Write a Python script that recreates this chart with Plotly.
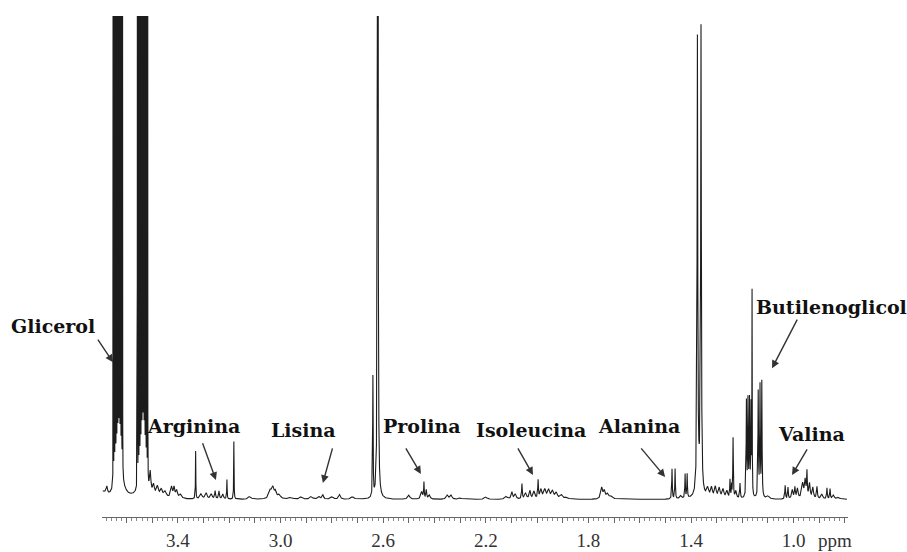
import numpy as np
import plotly.graph_objects as go

# 1H NMR spectrum described as a list of Lorentzian lines:
# chemical shift (ppm), height (a.u.), half width at half maximum (ppm)
peak_ppm = [
    # glicerol, first multiplet (dense lines over a broad base)
    3.690, 3.677,
    3.652, 3.648, 3.644, 3.640, 3.636, 3.632, 3.628, 3.624, 3.620, 3.616,
    3.630,
    # glicerol, second multiplet
    3.558, 3.554, 3.550, 3.546, 3.542, 3.538, 3.534, 3.530, 3.526, 3.522, 3.518,
    3.536,
    # 3.51 - 3.39
    3.508, 3.495, 3.480, 3.465, 3.450, 3.425, 3.415, 3.405, 3.390,
    # arginina region
    3.331, 3.310, 3.290, 3.270, 3.255, 3.240, 3.225, 3.209, 3.182, 3.120,
    # 3.04 - 2.70 (lisina)
    3.040, 3.030, 3.020, 3.005, 2.960, 2.920, 2.880, 2.850, 2.835, 2.800, 2.770, 2.720,
    # 2.6 singlet and shoulder
    2.621, 2.640,
    # prolina region
    2.500, 2.450, 2.441, 2.432, 2.420, 2.350, 2.335, 2.300, 2.200,
    # isoleucina region
    2.120, 2.098, 2.085, 2.059, 2.045, 2.028, 2.012, 1.996, 1.985, 1.970,
    1.955, 1.940, 1.925, 1.905, 1.885,
    # 1.75 multiplet
    1.748, 1.738, 1.725, 1.710,
    # alanina doublets
    1.474, 1.462, 1.440, 1.423, 1.415,
    # large doublet at 1.37
    1.375, 1.361, 1.368,
    # 1.34 - 1.20
    1.335, 1.320, 1.305, 1.290, 1.275, 1.260, 1.248, 1.242, 1.236, 1.225, 1.209,
    # butilenoglicol
    1.184, 1.178, 1.172, 1.166, 1.162, 1.138, 1.131, 1.124, 1.100,
    # valina region
    1.033, 1.022, 1.005, 0.995, 0.985, 0.965, 0.955, 0.948, 0.938, 0.925,
    0.909, 0.890, 0.870, 0.858, 0.845, 0.825,
]
peak_height = [
    1.2, 1.5,
    200, 240, 260, 260, 260, 260, 260, 250, 240, 200,
    10,
    200, 230, 250, 260, 260, 260, 260, 260, 250, 230, 200,
    11,
    4.0, 2.0, 2.0, 1.5, 1.2, 2.2, 2.0, 1.5, 0.8,
    9.5, 1.0, 1.2, 1.0, 1.6, 1.6, 1.0, 3.9, 11.5, 0.6,
    1.6, 2.0, 1.3, 0.8, 0.4, 0.5, 0.6, 0.5, 0.9, 0.5, 0.9, 0.5,
    300, 24,
    0.8, 1.5, 3.2, 1.8, 0.8, 0.8, 0.8, 0.3, 0.5,
    0.6, 1.4, 1.0, 3.0, 1.2, 1.6, 1.5, 3.6, 1.8, 1.8,
    1.7, 1.5, 1.2, 0.8, 0.4,
    2.2, 1.5, 1.0, 0.5,
    6.0, 6.0, 0.6, 4.8, 4.8,
    90, 92, 3.0,
    1.8, 2.0, 2.2, 2.0, 1.8, 1.5, 3.6, 2.5, 12.0, 1.5, 3.0,
    19, 19, 19, 18, 40, 21, 22, 23, 0.6,
    2.7, 2.3, 1.8, 2.2, 2.0, 3.0, 3.5, 5.0, 3.0, 2.2,
    2.4, 1.0, 2.2, 2.0, 0.8, 0.4,
]
peak_width = [
    0.010, 0.003,
    0.0002, 0.0002, 0.0002, 0.0002, 0.0002, 0.0002, 0.0002, 0.0002, 0.0002, 0.0002,
    0.012,
    0.0002, 0.0002, 0.0002, 0.0002, 0.0002, 0.0002, 0.0002, 0.0002, 0.0002, 0.0002, 0.0002,
    0.010,
    0.003, 0.004, 0.005, 0.005, 0.006, 0.004, 0.003, 0.004, 0.005,
    0.0008, 0.005, 0.004, 0.004, 0.002, 0.002, 0.003, 0.001, 0.0008, 0.006,
    0.006, 0.005, 0.005, 0.006, 0.008, 0.006, 0.006, 0.005, 0.003, 0.006, 0.004, 0.006,
    0.0010, 0.0010,
    0.005, 0.004, 0.0012, 0.002, 0.004, 0.005, 0.004, 0.006, 0.006,
    0.006, 0.003, 0.004, 0.0015, 0.004, 0.003, 0.004, 0.0015, 0.004, 0.005,
    0.005, 0.005, 0.005, 0.006, 0.006,
    0.004, 0.004, 0.006, 0.006,
    0.0012, 0.0012, 0.004, 0.0012, 0.0012,
    0.0015, 0.0015, 0.008,
    0.005, 0.004, 0.004, 0.004, 0.004, 0.004, 0.0012, 0.0012, 0.0012, 0.003, 0.0015,
    0.0012, 0.0012, 0.0012, 0.0012, 0.0006, 0.0012, 0.0012, 0.0012, 0.006,
    0.0015, 0.0015, 0.003, 0.002, 0.003, 0.004, 0.003, 0.0015, 0.003, 0.003,
    0.002, 0.004, 0.0015, 0.0015, 0.004, 0.006,
]
baseline_level = 0.3

# assigned metabolites: label, text position (ppm, a.u.), arrow tail and head (ppm, a.u.)
labels = ["Glicerol", "Arginina", "Lisina", "Prolina", "Isoleucina",
          "Alanina", "Butilenoglicol", "Valina"]
label_ppm = [3.887, 3.338, 2.909, 2.449, 2.024, 1.603, 0.854, 0.932]
label_int = [35.0, 15.0, 14.2, 15.0, 14.2, 15.0, 38.8, 13.4]
arrow_tail_ppm = [3.716, 3.306, 2.796, 2.515, 2.078, 1.599, 0.983, 0.944]
arrow_tail_int = [32.5, 11.8, 10.8, 10.8, 10.8, 10.8, 36.5, 10.6]
arrow_head_ppm = [3.653, 3.252, 2.835, 2.453, 2.016, 1.501, 1.084, 1.006]
arrow_head_int = [27.7, 4.2, 3.6, 5.4, 5.2, 4.8, 26.5, 5.2]

tick_values = [3.7, 3.6, 3.5, 3.4, 3.3, 3.2, 3.1, 3.0, 2.9, 2.8, 2.7, 2.6, 2.5,
               2.4, 2.3, 2.2, 2.1, 2.0, 1.9, 1.8, 1.7, 1.6, 1.5, 1.4, 1.3,
               1.2, 1.1, 1.0, 0.9, 0.8]
tick_labels = ["", "", "", "3.4", "", "", "", "3.0", "", "", "", "2.6", "",
               "", "", "2.2", "", "", "", "1.8", "", "", "", "1.4", "",
               "", "", "1.0", "", ""]
unit_label = "ppm"

X_RANGE = [3.696, 0.788]
Y_RANGE = [-3.2, 96.8]

# sum of Lorentzian lines on a fine chemical-shift grid
shift = np.arange(0.792, 3.692, 0.0001)
intensity = np.full_like(shift, baseline_level)
for p, h, w in zip(peak_ppm, peak_height, peak_width):
    intensity += h * w * w / ((shift - p) ** 2 + w * w)

fig = go.Figure()
fig.add_trace(go.Scatter(
    x=shift, y=intensity, mode="lines",
    line=dict(color="#1c1c1c", width=1.1),
    hoverinfo="skip", showlegend=False,
))


def to_paper_x(v):
    return (X_RANGE[0] - v) / (X_RANGE[0] - X_RANGE[1])


def to_paper_y(v):
    return (v - Y_RANGE[0]) / (Y_RANGE[1] - Y_RANGE[0])


label_font = dict(family="DejaVu Serif", size=19, color="#111111")
for name, lx, ly in zip(labels, label_ppm, label_int):
    # labels may sit left of the axis range, so place them in paper units
    fig.add_annotation(x=to_paper_x(lx), y=to_paper_y(ly), xref="paper", yref="paper",
                       text="<b>%s</b>" % name, showarrow=False, font=label_font,
                       xanchor="center", yanchor="middle")
for tx, ty, hx, hy in zip(arrow_tail_ppm, arrow_tail_int, arrow_head_ppm, arrow_head_int):
    fig.add_annotation(x=hx, y=hy, xref="x", yref="y", ax=tx, ay=ty,
                       axref="x", ayref="y", text="", showarrow=True,
                       arrowhead=2, arrowsize=1.1, arrowwidth=1.4,
                       arrowcolor="#333333", standoff=0, startstandoff=0)

fig.add_annotation(x=0.839, y=-0.047, xref="x", yref="paper", text=unit_label,
                   showarrow=False, xanchor="center", yanchor="middle",
                   font=dict(family="Liberation Serif", size=19, color="#333333"))

fig.update_layout(
    width=907, height=552,
    margin=dict(l=102, r=59, t=16, b=35),
    paper_bgcolor="white", plot_bgcolor="white",
    xaxis=dict(
        range=X_RANGE, automargin=False,
        tickmode="array", tickvals=tick_values, ticktext=tick_labels,
        ticks="outside", ticklen=5, tickwidth=1, tickcolor="#666666",
        showline=True, linecolor="#666666", linewidth=1,
        showgrid=False, zeroline=False,
        tickfont=dict(family="Liberation Serif", size=19, color="#333333"),
        ticklabelstandoff=1,
        minor=dict(ticks="outside", ticklen=3, tickwidth=1, tickcolor="#888888",
                   dtick=0.02, tick0=0, showgrid=False),
    ),
    yaxis=dict(range=Y_RANGE, visible=False, fixedrange=True, automargin=False),
)

fig.write_html("out.html")
